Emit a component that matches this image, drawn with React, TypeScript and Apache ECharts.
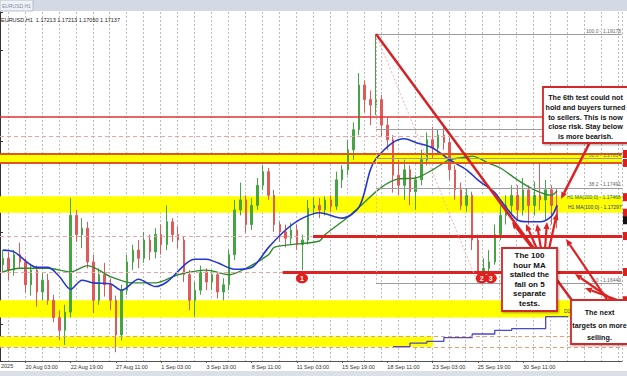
import React, { useEffect, useRef } from "react";
import * as echarts from "echarts";

// ---------- DATA ----------
// 8-hour bars: [open, close, low, high]
const candles: number[][] = [
  [1.1665, 1.1672, 1.1657, 1.1681], [1.1672, 1.1659, 1.1648, 1.1679], [1.1659, 1.1676, 1.1653, 1.1681],
  [1.1676, 1.1668, 1.1661, 1.1689], [1.1668, 1.1643, 1.1635, 1.1672], [1.1643, 1.1659, 1.1631, 1.1666],
  [1.1659, 1.1635, 1.1619, 1.1664], [1.1635, 1.1648, 1.1626, 1.1657], [1.1648, 1.1626, 1.1621, 1.1655],
  [1.1626, 1.1607, 1.1602, 1.1632], [1.1607, 1.1593, 1.1582, 1.1615], [1.1593, 1.1613, 1.1577, 1.1621],
  [1.1613, 1.1719, 1.1607, 1.1738], [1.1719, 1.1698, 1.169, 1.1725], [1.1698, 1.1705, 1.1683, 1.1716],
  [1.1705, 1.1668, 1.1661, 1.1712], [1.1668, 1.1626, 1.1612, 1.1676], [1.1626, 1.1654, 1.1621, 1.1661],
  [1.1654, 1.1643, 1.163, 1.1667], [1.1643, 1.1626, 1.1615, 1.165], [1.1626, 1.1588, 1.1569, 1.1631],
  [1.1588, 1.1637, 1.1582, 1.1643], [1.1637, 1.1668, 1.1632, 1.1676], [1.1668, 1.1681, 1.1659, 1.1687],
  [1.1681, 1.1672, 1.1661, 1.1692], [1.1672, 1.1692, 1.1667, 1.1701], [1.1692, 1.1679, 1.167, 1.1698],
  [1.1679, 1.1698, 1.1672, 1.1705], [1.1698, 1.1687, 1.1676, 1.1709], [1.1687, 1.1712, 1.1681, 1.173],
  [1.1712, 1.1698, 1.169, 1.1716], [1.1698, 1.1692, 1.1683, 1.1707], [1.1692, 1.1654, 1.1646, 1.1696],
  [1.1654, 1.1626, 1.1615, 1.1659], [1.1626, 1.1637, 1.1608, 1.1646], [1.1637, 1.1657, 1.1632, 1.1664],
  [1.1657, 1.1646, 1.1637, 1.1661], [1.1646, 1.1654, 1.1637, 1.1659], [1.1654, 1.1635, 1.1628, 1.1657],
  [1.1635, 1.1643, 1.1626, 1.165], [1.1643, 1.1676, 1.1637, 1.1681], [1.1676, 1.1725, 1.167, 1.1736],
  [1.1725, 1.1736, 1.1719, 1.1755], [1.1736, 1.1709, 1.17, 1.1741], [1.1709, 1.173, 1.1703, 1.1738],
  [1.173, 1.1752, 1.1725, 1.176], [1.1752, 1.1767, 1.1747, 1.1774], [1.1767, 1.1741, 1.1736, 1.1771],
  [1.1741, 1.1709, 1.1701, 1.1747], [1.1709, 1.1701, 1.169, 1.1712], [1.1701, 1.1694, 1.1684, 1.1709],
  [1.1694, 1.1703, 1.1687, 1.1711], [1.1703, 1.1687, 1.1681, 1.1709], [1.1687, 1.1692, 1.1659, 1.1698],
  [1.1692, 1.1727, 1.1687, 1.1736], [1.1727, 1.173, 1.1719, 1.1739], [1.173, 1.1725, 1.1716, 1.1738],
  [1.1725, 1.1736, 1.1719, 1.174], [1.1736, 1.1729, 1.1723, 1.1741], [1.1729, 1.1758, 1.1725, 1.1767],
  [1.1758, 1.1769, 1.1749, 1.1774], [1.1769, 1.1791, 1.1763, 1.1802], [1.1791, 1.1813, 1.178, 1.1821],
  [1.1813, 1.1862, 1.1807, 1.1875], [1.1862, 1.1846, 1.1832, 1.1867], [1.1846, 1.184, 1.1818, 1.1856],
  [1.184, 1.1846, 1.1829, 1.19178], [1.1846, 1.1818, 1.1805, 1.1851], [1.1818, 1.1802, 1.1791, 1.1826],
  [1.1802, 1.1763, 1.1744, 1.1807], [1.1763, 1.1752, 1.1741, 1.178], [1.1752, 1.1769, 1.1736, 1.178],
  [1.1769, 1.1745, 1.173, 1.1774], [1.1745, 1.1758, 1.1725, 1.1763], [1.1758, 1.178, 1.1752, 1.1791],
  [1.178, 1.1802, 1.1774, 1.181], [1.1802, 1.1793, 1.1782, 1.1816], [1.1793, 1.1807, 1.1785, 1.1813],
  [1.1807, 1.1799, 1.1791, 1.1816], [1.1799, 1.1769, 1.1758, 1.1804], [1.1769, 1.1747, 1.1736, 1.1774],
  [1.1747, 1.173, 1.1725, 1.1755], [1.173, 1.1741, 1.1723, 1.1749], [1.1741, 1.1692, 1.1681, 1.1745],
  [1.1692, 1.1654, 1.16449, 1.1698], [1.1654, 1.1661, 1.1646, 1.1672], [1.1661, 1.1668, 1.1648, 1.1681],
  [1.1668, 1.1698, 1.1665, 1.1709], [1.1698, 1.1719, 1.1692, 1.173], [1.1719, 1.173, 1.1709, 1.1741],
  [1.173, 1.1741, 1.1719, 1.1752], [1.1741, 1.1725, 1.1714, 1.1752], [1.1725, 1.1747, 1.1719, 1.176],
  [1.1747, 1.173, 1.1709, 1.1752], [1.173, 1.1741, 1.1719, 1.1756], [1.1741, 1.1736, 1.1725, 1.1776],
  [1.1736, 1.1747, 1.1714, 1.1758], [1.1747, 1.173, 1.1709, 1.1752], [1.173, 1.1714, 1.1705, 1.1749],
];
const barCount = 110;
const tickIndex = [4, 12, 20, 28, 36, 44, 52, 60, 68, 76, 84, 92];
const tickLabels = [
  "20 Aug 03:00", "22 Aug 19:00", "27 Aug 11:00", "1 Sep 03:00", "3 Sep 19:00", "8 Sep 11:00",
  "11 Sep 03:00", "15 Sep 19:00", "18 Sep 11:00", "23 Sep 03:00", "25 Sep 19:00", "30 Sep 11:00",
];
// [bar index, value]
const ma100: number[][] = [
  [0, 1.1681], [2, 1.1679], [6, 1.1662], [8, 1.1662], [10, 1.1652], [12, 1.1638], [14, 1.1648],
  [16, 1.1645], [19, 1.1644], [21, 1.1637], [24, 1.1649], [27, 1.1641], [29, 1.1646], [34, 1.1671],
  [36, 1.1671], [38, 1.1667], [41, 1.166], [44, 1.1662], [47, 1.1684], [50, 1.1703], [53, 1.1716],
  [56, 1.1722], [60, 1.1716], [63, 1.1728], [65, 1.1769], [66, 1.1781], [69, 1.1799], [71, 1.1803],
  [73, 1.1799], [76, 1.1793], [79, 1.178], [82, 1.1769], [84, 1.1758], [87, 1.1744], [88, 1.1736],
  [91, 1.1714], [93, 1.1712], [95, 1.1712], [97, 1.1718], [98, 1.173],
];
const ma200: number[][] = [
  [0, 1.1657], [3, 1.1661], [8, 1.1661], [12, 1.1657], [15, 1.1664], [19, 1.1652], [23, 1.1645],
  [27, 1.1645], [31, 1.1654], [36, 1.1659], [40, 1.1654], [43, 1.1661], [47, 1.1676], [48, 1.1684],
  [51, 1.1687], [56, 1.1691], [57, 1.1698], [61, 1.1717], [63, 1.1728], [67, 1.175], [70, 1.1759],
  [73, 1.176], [76, 1.1769], [79, 1.178], [82, 1.1783], [83, 1.1784], [86, 1.1776], [88, 1.1771],
  [91, 1.1758], [94, 1.1747], [97, 1.1741], [98, 1.1746],
];
const d1ma: number[][] = [
  [69, 1.1575], [72, 1.1579], [75, 1.1581], [78, 1.1585], [83, 1.1589], [87, 1.1593], [90, 1.1595],
  [96, 1.1608], [100, 1.1608],
];
// Fibonacci retracement
const fibStartU = 66.5;
const fibEndU = 84.5;
const fibPct = ["100.0", "61.8", "50.0", "38.2", "0.0"];
const fibPrice = [1.19178, 1.18136, 1.17814, 1.17491, 1.16449];
const fibLabelled = [true, false, true, true, true];
// Horizontal levels
const resistance = 1.18268;
const dashedLevels = [1.1806, 1.16964, 1.1657];
const bandA = [1.17863, 1.17765];
const bandB = [1.174, 1.1722];
const bandC = [1.1626, 1.1607];
const bandD = [1.1586, 1.1575];
const bandDEndU = 76.6;
const supportLevels = [1.16964, 1.1657];
const supportStartU = [55.35, 50.0];
const trendEnd = [101.5, 1.1623];
const lowMarks = [
  { name: "1", u: 53.4, price: 1.165 },
  { name: "2", u: 85.2, price: 1.165 },
  { name: "3", u: 86.8, price: 1.165 },
];
const tagPrices = [1.18268, 1.17863, 1.17765, 1.1739, 1.1722, 1.16964, 1.1657, 1.1626, 1.1586];
const lastPrice = 1.17137;
const header = "EURUSD,H1  1.17213 1.17213 1.17050 1.17137";
const ma200Label = "H1 MA(200;0) - 1.17468";
const ma100Label = "H1 MA(100;0) - 1.17297";

const boxTexts = [
  ["The 6th test could not", "hold and buyers turned", "to sellers. This is now", "close risk. Stay below", "is more bearish."],
  ["The 100", "hour MA", "stalled the", "fall on 5", "separate", "tests."],
  ["The next", "targets on more", "selling."],
];

// ---------- LAYOUT ----------
const RED = "#dc2222";
const FONT = '"Liberation Sans", Arial, sans-serif';
const boxes = [
  { x: 543, y: 87, w: 110, h: 56, cx: 585.5, ty: 93, lh: 9.6, fs: 7.2 },
  { x: 502, y: 248, w: 55, h: 63, cx: 529.5, ty: 251.2, lh: 9.5, fs: 8 },
  { x: 571, y: 300, w: 80, h: 44, cx: 599.5, ty: 306.7, lh: 12.4, fs: 7.2 },
];
const arrows = [
  [589, 144, 561, 199, 2.6],
  [533, 249, 512, 222, 2.2],
  [537, 249, 526, 224, 2.2],
  [541, 249, 537, 224, 2.2],
  [545, 249, 547, 222, 2.2],
  [549, 249, 557, 213, 2.2],
  [608, 301, 566, 239, 2.2],
  [614, 301, 575, 274, 2.2],
  [620, 301, 585, 288, 2.2],
];

function arrowEls(a: number[]) {
  const [x1, y1, x2, y2, lw] = a;
  const ang = Math.atan2(y2 - y1, x2 - x1);
  const hl = 7, hw = 6;
  const bx = x2 - hl * Math.cos(ang), by = y2 - hl * Math.sin(ang);
  const nx = -Math.sin(ang) * hw / 2, ny = Math.cos(ang) * hw / 2;
  return [
    { type: "line", z: 95, silent: true, shape: { x1, y1, x2: bx, y2: by }, style: { stroke: RED, lineWidth: lw } },
    { type: "polygon", z: 95, silent: true, shape: { points: [[x2, y2], [bx + nx, by + ny], [bx - nx, by - ny]] }, style: { fill: RED } },
  ];
}

export default function App() {
  const ref = useRef<HTMLDivElement>(null);
  useEffect(() => {
    document.body.style.margin = "0";
    document.body.style.overflow = "hidden";
    const chart = echarts.init(ref.current!, null, { renderer: "svg", width: 627, height: 376 });
    const categories = Array.from({ length: barCount }, (_, i) => `b${i}`);
    const showTick = (i: number) => tickIndex.indexOf(i) >= 0;

    const markLines: any[] = [];
    markLines.push({ yAxis: resistance, lineStyle: { color: "#e33030", width: 1.5, type: "solid" } });
    dashedLevels.forEach((p) =>
      markLines.push({ yAxis: p, lineStyle: { color: "#eaa6a6", width: 1, type: [4, 3] } })
    );
    bandA.forEach((p) => markLines.push({ yAxis: p, lineStyle: { color: "#e0561e", width: 2, type: "solid" } }));
    bandD.forEach((p) => markLines.push({ yAxis: p, lineStyle: { color: "#e9a070", width: 1, type: [4, 3] } }));
    supportLevels.forEach((p, k) =>
      markLines.push([
        { coord: [supportStartU[k], p], lineStyle: { color: RED, width: 2.8, type: "solid" } },
        { coord: [barCount, p] },
      ])
    );
    fibPrice.forEach((p, k) =>
      markLines.push([
        {
          coord: [fibStartU, p],
          lineStyle: { color: "#9c9c9c", width: 1, type: "solid" },
          label: {
            show: fibLabelled[k], position: "insideEndTop", distance: 1, formatter: `${fibPct[k]} - ${p.toFixed(5)}`,
            fontSize: 5, color: "#666", fontFamily: FONT,
          },
        },
        { coord: [barCount, p] },
      ])
    );
    markLines.push([
      { coord: [fibStartU, fibPrice[0]], lineStyle: { color: "#ebb4b4", width: 1, type: [2, 2] } },
      { coord: [fibStartU, fibPrice[4]] },
    ]);
    markLines.push([
      { coord: [fibStartU, fibPrice[0]], lineStyle: { color: "#ebb4b4", width: 1, type: [2, 2] } },
      { coord: [fibEndU, fibPrice[4]] },
    ]);
    markLines.push([
      { coord: [fibStartU, fibPrice[0]], lineStyle: { color: "#d42326", width: 2.5, type: "solid" } },
      { coord: trendEnd },
    ]);

    const option: any = {
      animation: false,
      backgroundColor: "#ffffff",
      grid: [
        { left: 0, right: 5, top: 12, bottom: 15, outerBoundsMode: "none" },
        { left: 8, right: 5, top: 12, bottom: 15, outerBoundsMode: "none" },
      ],
      xAxis: [
        {
          type: "category", gridIndex: 0, data: categories, boundaryGap: true,
          axisLine: { show: true, lineStyle: { color: "#555", width: 1 } },
          axisTick: { show: true, interval: showTick, alignWithLabel: true, length: 2, lineStyle: { color: "#555" } },
          axisLabel: {
            show: true, interval: showTick, align: "left", margin: 3, fontSize: 5.5, color: "#333", fontFamily: FONT,
            formatter: (_v: string, i: number) => { const k = tickIndex.indexOf(i); return k >= 0 ? tickLabels[k] : ""; },
          },
          splitLine: { show: false },
        },
        {
          type: "value", gridIndex: 1, min: 0, max: 36.22, interval: 1,
          axisLine: { show: false }, axisTick: { show: false }, axisLabel: { show: false },
          splitLine: { show: true, lineStyle: { color: "#bdbdbd", width: 1, type: [2, 2] } },
        },
        { type: "value", gridIndex: 0, min: 0, max: barCount, show: false },
      ],
      yAxis: [
        {
          type: "value", gridIndex: 0, position: "right", min: 1.15594, max: 1.1942,
          axisLine: { show: true, lineStyle: { color: "#333" } },
          axisTick: { show: true, length: 3, lineStyle: { color: "#333" } },
          axisLabel: { show: false }, splitLine: { show: false },
        },
        { type: "value", gridIndex: 1, min: 0, max: 1, show: false },
      ],
      series: [
        {
          type: "line", xAxisIndex: 2, yAxisIndex: 0, data: [], silent: true,
          markArea: {
            silent: true, itemStyle: { color: "#ffff00" }, label: { show: false },
            data: [
              [{ yAxis: bandA[0] }, { yAxis: bandA[1] }],
              [{ yAxis: bandB[0] }, { yAxis: bandB[1] }],
              [{ yAxis: bandC[0] }, { yAxis: bandC[1] }],
              [{ xAxis: 0, yAxis: bandD[0] }, { xAxis: bandDEndU, yAxis: bandD[1] }],
            ],
          },
        },
        {
          type: "candlestick", xAxisIndex: 0, yAxisIndex: 0, data: candles, barWidth: 2, z: 2,
          itemStyle: { color: "#45a545", color0: "#e05a5a", borderColor: "#45a545", borderColor0: "#e05a5a", borderWidth: 1 },
        },
        {
          type: "line", xAxisIndex: 0, yAxisIndex: 0, data: ma200, smooth: 0.3, symbol: "none", z: 3,
          lineStyle: { color: "#2f8a2f", width: 1.4 },
        },
        {
          type: "line", xAxisIndex: 0, yAxisIndex: 0, data: ma100, smooth: 0.3, symbol: "none", z: 3,
          lineStyle: { color: "#2636d0", width: 1.6 },
        },
        {
          type: "line", xAxisIndex: 0, yAxisIndex: 0, data: d1ma, step: "end", symbol: "none", z: 3,
          lineStyle: { color: "#4a4ad0", width: 1.3 },
        },
        {
          type: "line", xAxisIndex: 2, yAxisIndex: 0, data: [], silent: true,
          markLine: { silent: true, precision: 5, symbol: ["none", "none"], label: { show: false }, data: markLines },
          markPoint: {
            silent: true, symbol: "circle", symbolSize: [12, 10], itemStyle: { color: "#e0201c" },
            label: { show: true, color: "#fff", fontSize: 7, fontWeight: "bold", formatter: (p: any) => p.name },
            data: lowMarks.map((m) => ({ name: m.name, coord: [m.u, m.price] })),
          },
        },
      ],
    };
    chart.setOption(option);

    const g: any[] = [
      { type: "rect", silent: true, z: 100, shape: { x: 0, y: 0, width: 627, height: 11 }, style: { fill: "#d3dae3" } },
      { type: "rect", silent: true, z: 100, shape: { x: 0, y: 0, width: 33, height: 11 }, style: { fill: "#eef2f6", stroke: "#a9b4c0", lineWidth: 0.8 } },
      { type: "text", silent: true, z: 101, style: { text: "EURUSD,H1", x: 2, y: 6, fill: "#7d8fa3", font: `5px ${FONT}`, verticalAlign: "middle" } },
      { type: "rect", silent: true, z: 100, shape: { x: 0, y: 371, width: 627, height: 5 }, style: { fill: "#dbe0e6" } },
      { type: "text", silent: true, z: 101, style: { text: header, x: 1, y: 20, fill: "#222", font: `5.5px ${FONT}`, verticalAlign: "middle" } },
      { type: "text", silent: true, z: 101, style: { text: "2025", x: 1, y: 366, fill: "#333", font: `5.5px ${FONT}`, verticalAlign: "middle" } },
      { type: "text", silent: true, z: 101, style: { text: "D1", x: 564, y: 311, fill: "#444", font: `5px ${FONT}`, verticalAlign: "middle" } },
      { type: "text", silent: true, z: 101, style: { text: ma200Label, x: 567, y: 197, fill: "#1f6b1f", font: `5px ${FONT}`, verticalAlign: "middle" } },
      { type: "text", silent: true, z: 101, style: { text: ma100Label, x: 568, y: 207, fill: "#203090", font: `5px ${FONT}`, verticalAlign: "middle" } },
    ];
    arrows.forEach((a) => g.push(...arrowEls(a)));
    boxes.forEach((b, k) => {
      g.push({
        type: "rect", silent: true, z: 110, shape: { x: b.x, y: b.y, width: b.w, height: b.h },
        style: { fill: "#ffffff", stroke: "#d02a2a", lineWidth: 1.8, shadowBlur: 2, shadowOffsetX: 1, shadowOffsetY: 1, shadowColor: "rgba(0,0,0,0.35)" },
      });
      g.push({
        type: "text", silent: true, z: 111,
        style: { text: boxTexts[k].join("\n"), x: b.cx, y: b.ty, align: "center", verticalAlign: "top", lineHeight: b.lh, fill: "#111", font: `bold ${b.fs}px ${FONT}` },
      });
    });
    tagPrices.forEach((p) => {
      const y = chart.convertToPixel({ yAxisIndex: 0 }, p) as number;
      g.push({ type: "rect", silent: true, z: 105, shape: { x: 623, y: y - 4, width: 5, height: 8 }, style: { fill: "#e01c1c" } });
    });
    const ly = chart.convertToPixel({ yAxisIndex: 0 }, lastPrice) as number;
    g.push({ type: "rect", silent: true, z: 105, shape: { x: 623, y: ly - 4, width: 5, height: 8 }, style: { fill: "#111" } });
    chart.setOption({ graphic: g });

    return () => chart.dispose();
  }, []);
  return <div ref={ref} style={{ width: 627, height: 376 }} />;
}
